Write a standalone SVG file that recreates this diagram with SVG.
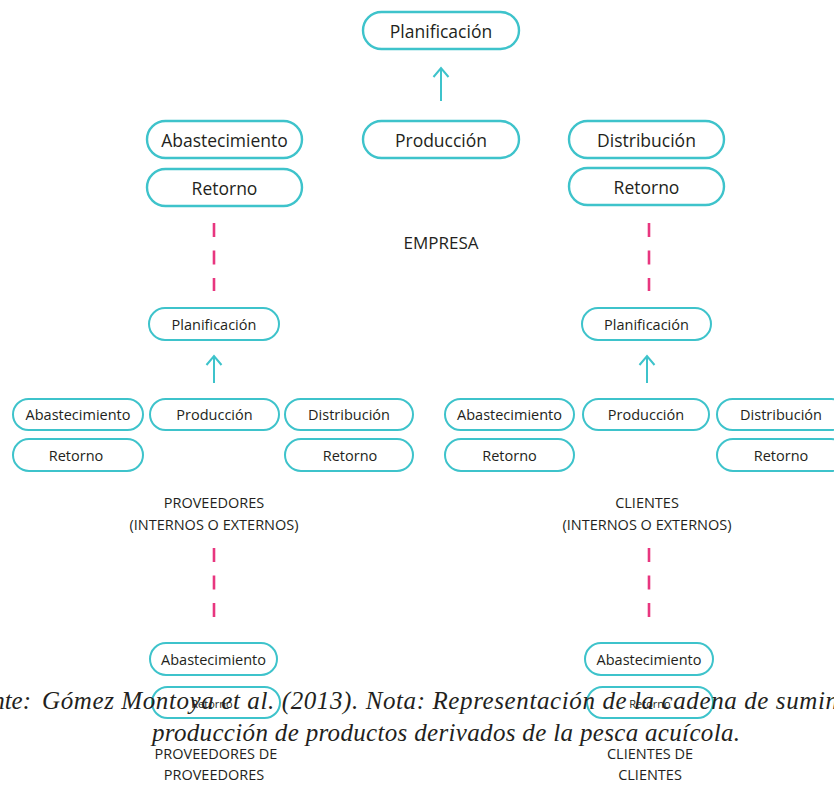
<svg xmlns="http://www.w3.org/2000/svg" width="834" height="785" viewBox="0 0 834 785">
<style>
  .box{fill:#ffffff;stroke:#3ec3cb;stroke-width:2.4}
  .sbox{fill:#ffffff;stroke:#3ec3cb;stroke-width:2}
  .t1{font-family:"Open Sans","Noto Sans",sans-serif;font-size:17.5px;fill:#231f20;text-anchor:middle;dominant-baseline:central}
  .t2{font-family:"Open Sans","Noto Sans",sans-serif;font-size:14.5px;fill:#231f20;text-anchor:middle;dominant-baseline:central}
  .t3{font-family:"Open Sans","Noto Sans",sans-serif;font-size:11px;fill:#231f20;text-anchor:middle;dominant-baseline:central}
  .lab{font-family:"Open Sans","Noto Sans",sans-serif;font-size:14.5px;fill:#231f20;text-anchor:middle}
  .big{font-family:"Open Sans","Noto Sans",sans-serif;font-size:17px;fill:#231f20;text-anchor:middle}
  .arr{stroke:#3ec3cb;stroke-width:2;fill:none}
  .dash{stroke:#e8367f;stroke-width:2.6;fill:none;stroke-dasharray:14 13.5}
  .cap{font-family:"Liberation Serif","Times New Roman",serif;font-style:italic;font-size:25px;fill:#231f20}
</style>
<defs>
  <marker id="ah" viewBox="-11 -10 13 20" refX="0" refY="0" markerWidth="13" markerHeight="20" markerUnits="userSpaceOnUse" orient="auto">
    <polyline points="-9,-7.5 0,0 -9,7.5" fill="none" stroke="#3ec3cb" stroke-width="2"/>
  </marker>
</defs>

<g id="connectors">
  <line class="arr" x1="441" y1="101" x2="441" y2="68" marker-end="url(#ah)"/>
  <line class="arr" x1="214" y1="383" x2="214" y2="356" marker-end="url(#ah)"/>
  <line class="arr" x1="647" y1="383" x2="647" y2="356" marker-end="url(#ah)"/>
  <line class="dash" x1="214" y1="223" x2="214" y2="291"/>
  <line class="dash" x1="649" y1="223" x2="649" y2="291"/>
  <line class="dash" x1="214" y1="548" x2="214" y2="617"/>
  <line class="dash" x1="649" y1="548" x2="649" y2="617"/>
</g>

<!-- EMPRESA level -->
<g id="emp-planificacion"><rect class="box" x="363" y="12" width="156" height="37" rx="18.5"/><text class="t1" x="441" y="30.5">Planificación</text></g>
<g id="emp-produccion"><rect class="box" x="363" y="121" width="156" height="37" rx="18.5"/><text class="t1" x="441" y="139.5">Producción</text></g>
<g id="emp-abastecimiento"><rect class="box" x="147" y="121" width="155" height="37" rx="18.5"/><text class="t1" x="224.5" y="139.5">Abastecimiento</text></g>
<g id="emp-retorno-1"><rect class="box" x="147" y="169" width="155" height="37" rx="18.5"/><text class="t1" x="224.5" y="187.5">Retorno</text></g>
<g id="emp-distribucion"><rect class="box" x="569" y="121" width="155" height="37" rx="18.5"/><text class="t1" x="646.5" y="139.5">Distribución</text></g>
<g id="emp-retorno-2"><rect class="box" x="569" y="168" width="155" height="37" rx="18.5"/><text class="t1" x="646.5" y="186.5">Retorno</text></g>
<g id="lbl-empresa"><text class="big" x="441" y="249">EMPRESA</text></g>

<!-- PROVEEDORES level -->
<g id="prov-planificacion"><rect class="sbox" x="149" y="308" width="130" height="32" rx="16"/><text class="t2" x="214" y="324">Planificación</text></g>
<g id="prov-abastecimiento"><rect class="sbox" x="13" y="399" width="130" height="31" rx="15.5"/><text class="t2" x="78" y="414.5">Abastecimiento</text></g>
<g id="prov-produccion"><rect class="sbox" x="150" y="399" width="129" height="31" rx="15.5"/><text class="t2" x="214.5" y="414.5">Producción</text></g>
<g id="prov-distribucion"><rect class="sbox" x="285" y="399" width="128" height="31" rx="15.5"/><text class="t2" x="349" y="414.5">Distribución</text></g>
<g id="prov-retorno-1"><rect class="sbox" x="13" y="439" width="130" height="32" rx="16"/><text class="t2" x="76" y="455">Retorno</text></g>
<g id="prov-retorno-2"><rect class="sbox" x="285" y="439" width="128" height="32" rx="16"/><text class="t2" x="350" y="455">Retorno</text></g>
<g id="lbl-proveedores"><text class="lab" x="214" y="508">PROVEEDORES</text><text class="lab" x="214" y="530">(INTERNOS O EXTERNOS)</text></g>

<!-- CLIENTES level -->
<g id="cli-planificacion"><rect class="sbox" x="582" y="308" width="129" height="32" rx="16"/><text class="t2" x="646.5" y="324">Planificación</text></g>
<g id="cli-abastecimiento"><rect class="sbox" x="445" y="399" width="129" height="31" rx="15.5"/><text class="t2" x="509.5" y="414.5">Abastecimiento</text></g>
<g id="cli-produccion"><rect class="sbox" x="583" y="399" width="126" height="31" rx="15.5"/><text class="t2" x="646" y="414.5">Producción</text></g>
<g id="cli-distribucion"><rect class="sbox" x="717" y="399" width="130" height="31" rx="15.5"/><text class="t2" x="781" y="414.5">Distribución</text></g>
<g id="cli-retorno-1"><rect class="sbox" x="445" y="439" width="129" height="32" rx="16"/><text class="t2" x="509.5" y="455">Retorno</text></g>
<g id="cli-retorno-2"><rect class="sbox" x="717" y="439" width="130" height="32" rx="16"/><text class="t2" x="781" y="455">Retorno</text></g>
<g id="lbl-clientes"><text class="lab" x="647" y="508">CLIENTES</text><text class="lab" x="647" y="530">(INTERNOS O EXTERNOS)</text></g>

<!-- bottom level -->
<g id="pp-abastecimiento"><rect class="sbox" x="150" y="643" width="127" height="32" rx="16"/><text class="t2" x="213.5" y="659">Abastecimiento</text></g>
<g id="pp-retorno"><rect class="sbox" x="152" y="687" width="128" height="31" rx="15.5"/><text class="t3" x="212" y="703">Retorno</text></g>
<g id="lbl-pp"><text class="lab" x="216" y="759">PROVEEDORES DE</text><text class="lab" x="214" y="780">PROVEEDORES</text></g>
<g id="cc-abastecimiento"><rect class="sbox" x="585" y="643" width="128" height="32" rx="16"/><text class="t2" x="649" y="659">Abastecimiento</text></g>
<g id="cc-retorno"><rect class="sbox" x="587" y="687" width="126" height="31" rx="15.5"/><text class="t3" x="650" y="703">Retorno</text></g>
<g id="lbl-cc"><text class="lab" x="650" y="759">CLIENTES DE</text><text class="lab" x="650" y="780">CLIENTES</text></g>

<!-- caption -->
<g id="caption">
  <text class="cap" x="31" y="709" text-anchor="end">Fuente:</text>
  <text class="cap" x="42" y="709" textLength="796" lengthAdjust="spacing">Gómez Montoya et al. (2013). Nota: Representación de la cadena de sumin</text>
  <text class="cap" x="152" y="741" textLength="588" lengthAdjust="spacing">producción de productos derivados de la pesca acuícola.</text>
</g>
</svg>
